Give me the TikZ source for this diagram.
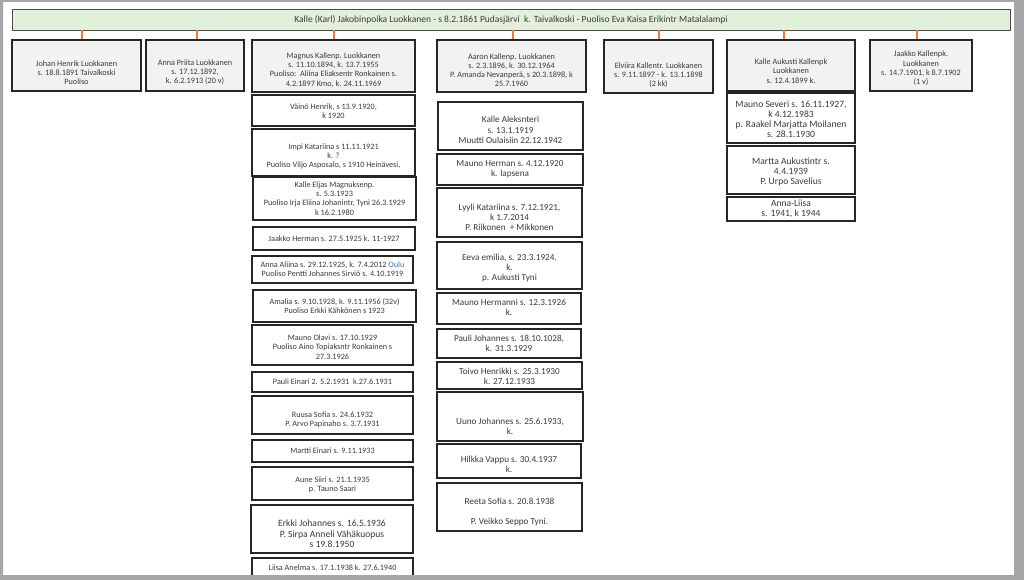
\documentclass[tikz,border=0pt]{standalone}
\usepackage{fontspec}
\setmainfont{Carlito}
\definecolor{barfill}{HTML}{E2EFD9}
\definecolor{hdrfill}{HTML}{F2F2F2}
\definecolor{boxline}{HTML}{262626}
\definecolor{conncol}{HTML}{ED7D31}
\definecolor{txtc}{HTML}{3A3A3A}
\definecolor{framec}{HTML}{A6A6A6}
\definecolor{linkblue}{HTML}{4472C4}
% name, style, x1, y1, x2, y2, text shift (pt, negative = down), text
\newcommand\famBox[8]{%
  \node[#2, minimum width={#5-#3}, minimum height={#6-#4}] (#1) at ({(#3+#5)/2},{(#4+#6)/2}) {};
  \node[#2txt] (#1t) at ([yshift=#7pt]#1.center) {#8};}
\begin{document}
\begin{tikzpicture}[x=1pt,y=-1pt,
  fambar/.style={draw=black!70, fill=barfill, line width=0.9pt, inner sep=0pt},
  fambartxt/.style={align=center, inner sep=0pt, text=txtc, font=\fontsize{9.5}{10}\selectfont},
  famhdr/.style={draw=boxline, fill=hdrfill, line width=1.5pt, inner sep=0pt},
  famhdrtxt/.style={align=center, inner sep=0pt, text=txtc, font=\fontsize{8.2}{9.2}\selectfont},
  famkidc/.style={draw=boxline, fill=white, line width=1.4pt, inner sep=0pt},
  famkidctxt/.style={align=center, inner sep=0pt, text=txtc, font=\fontsize{8.2}{9.3}\selectfont},
  famkidd/.style={famkidc},
  famkiddtxt/.style={align=center, inner sep=0pt, text=txtc, font=\fontsize{9.2}{10.2}\selectfont},
  famkidf/.style={famkidc},
  famkidftxt/.style={align=center, inner sep=0pt, text=txtc, font=\fontsize{9.6}{10}\selectfont},
  famkidl/.style={famkidc},
  famkidltxt/.style={align=center, inner sep=0pt, text=txtc, font=\fontsize{9.6}{10.6}\selectfont},
  famconn/.style={draw=conncol, line width=2.9pt}]
\useasboundingbox (0,0) rectangle (1024,580);
\fill[white] (0,0) rectangle (1024,580);

% top bar
\famBox{top}{fambar}{12}{9}{1010}{30}{0}{Kalle (Karl) Jakobinpoika Luokkanen - s 8.2.1861 Pudasjärvi\ \ k. Taivalkoski - Puoliso Eva Kaisa Erikintr Matalalampi}

% children of Kalle
\famBox{johan}{famhdr}{12}{40}{141}{91}{-7}{Johan Henrik Luokkanen\\ s. 18.8.1891 Taivalkoski\\ Puoliso}
\famBox{anna}{famhdr}{146}{40}{244}{91}{-7}{Anna Priita Luokkanen\\ s. 17.12.1892,\\ k. 6.2.1913 (20 v)}
\famBox{magnus}{famhdr}{252}{40}{415}{92}{-4}{Magnus Kallenp. Luokkanen\\ s. 11.10.1894, k. 13.7.1955\\ Puoliso:\ \ Aliina Eliaksentr Ronkainen s.\\ 4.2.1897 Kmo, k. 24.11.1969}
\famBox{aaron}{famhdr}{437}{40}{586}{92}{-4}{Aaron Kallenp. Luokkanen\\ s. 2.3.1896, k. 30.12.1964\\ P. Amanda Nevanperä, s 20.3.1898, k\\ 25.7.1960}
\famBox{elviira}{famhdr}{604}{40}{713}{93}{-8.5}{Elviira Kallentr. Luokkanen\\ s. 9.11.1897 - k. 13.1.1898\\ (2 kk)}
\famBox{kallea}{famhdr}{727}{40}{855}{91}{-5.5}{Kalle Aukusti Kallenpk\\ Luokkanen\\ s. 12.4.1899 k.}
\famBox{jaakko}{famhdr}{870}{40}{972}{91}{-3}{Jaakko Kallenpk.\\ Luokkanen\\ s. 14.7.1901, k 8.7.1902\\ (1 v)}

% connectors
\coordinate (k1) at (82,0);
\coordinate (k2) at (197,0);
\coordinate (k3) at (334,0);
\coordinate (k4) at (513,0);
\coordinate (k5) at (659,0);
\coordinate (k6) at (784,0);
\coordinate (k7) at (917,0);
\draw[famconn] (k1 |- top.south) -- (k1 |- johan.north);
\draw[famconn] (k2 |- top.south) -- (k2 |- anna.north);
\draw[famconn] (k3 |- top.south) -- (k3 |- magnus.north);
\draw[famconn] (k4 |- top.south) -- (k4 |- aaron.north);
\draw[famconn] (k5 |- top.south) -- (k5 |- elviira.north);
\draw[famconn] (k6 |- top.south) -- (k6 |- kallea.north);
\draw[famconn] (k7 |- top.south) -- (k7 |- jaakko.north);

% Magnus' children
\famBox{vaino}{famkidc}{252}{95}{415}{126}{-1}{Väinö Henrik, s 13.9.1920,\\ k 1920}
\famBox{impi}{famkidc}{252}{129}{415}{176}{-4}{Impi Katariina s 11.11.1921\\ k. ?\\ Puoliso Viljo Asposalo, s 1910 Heinävesi,}
\famBox{kallee}{famkidc}{253}{177}{416}{220}{0}{Kalle Eljas Magnuksenp.\\ s. 5.3.1923\\ Puoliso Irja Eliina Johanintr, Tyni 26.3.1929\\ k 16.2.1980}
\famBox{jaakkoh}{famkidc}{253}{227}{415}{250}{0}{Jaakko Herman s. 27.5.1925 k. 11-1927}
\famBox{annaa}{famkidc}{252}{256}{413}{283}{0}{Anna Aliina s. 29.12.1925, k. 7.4.2012 \textcolor{linkblue}{Oulu}\\ Puoliso Pentti Johannes Sirviö s. 4.10.1919}
\famBox{amalia}{famkidc}{253}{290}{416}{322}{0}{Amalia s. 9.10.1928, k. 9.11.1956 (32v)\\ Puoliso Erkki Kähkönen s 1923}
\famBox{maunoo}{famkidc}{252}{325}{413}{365}{-2}{Mauno Olavi s. 17.10.1929\\ Puoliso Aino Topiaksntr Ronkainen s\\ 27.3.1926}
\famBox{paulie}{famkidc}{252}{372}{413}{392}{0}{Pauli Einari 2. 5.2.1931\ \ k.27.6.1931}
\famBox{ruusa}{famkidc}{252}{396}{413}{434}{-5}{Ruusa Sofia s. 24.6.1932\\ P. Arvo Papinaho s. 3.7.1931}
\famBox{martti}{famkidc}{252}{440}{413}{462}{0}{Martti Einari s. 9.11.1933}
\famBox{aune}{famkidc}{252}{467}{413}{500}{-1.5}{Aune Siiri s. 21.1.1935\\ p. Tauno Saari}
\famBox{erkki}{famkidl}{251}{505}{413}{553}{-5}{Erkki Johannes s. 16.5.1936\\ P. Sirpa Anneli Vähäkuopus\\ s 19.8.1950}
\famBox{liisa}{famkidc}{252}{558}{413}{577}{0}{Liisa Anelma s. 17.1.1938 k. 27.6.1940}

% Aaron's children
\famBox{kalleal}{famkidd}{438}{102}{583}{150}{-4}{Kalle Aleksnteri\\ s. 13.1.1919\\ Muutti Oulaisiin 22.12.1942}
\famBox{maunoh}{famkidd}{437}{154}{583}{185}{0}{Mauno Herman s. 4.12.1920\\ k. lapsena}
\famBox{lyyli}{famkidd}{437}{188}{582}{237}{-5}{Lyyli Katariina s. 7.12.1921,\\ k 1.7.2014\\ P. Riikonen\ \ + Mikkonen}
\famBox{eeva}{famkidd}{437}{242}{582}{289}{-2.5}{Eeva emilia, s. 23.3.1924.\\ k.\\ p. Aukusti Tyni}
\famBox{maunohm}{famkidd}{437}{293}{581}{324}{1}{Mauno Hermanni s. 12.3.1926\\ k.}
\famBox{paulij}{famkidd}{437}{329}{581}{358}{0}{Pauli Johannes s. 18.10.1028,\\ k. 31.3.1929}
\famBox{toivo}{famkidd}{437}{362}{582}{389}{-1}{Toivo Henrikki s. 25.3.1930\\ k. 27.12.1933}
\famBox{uuno}{famkidd}{437}{392}{583}{441}{-10}{Uuno Johannes s. 25.6.1933,\\ k.}
\famBox{hilkka}{famkidd}{437}{444}{581}{478}{-3}{Hilkka Vappu s. 30.4.1937\\ k.}
\famBox{reeta}{famkidd}{437}{483}{582}{531}{-5}{Reeta Sofia s. 20.8.1938\\[10pt] P. Veikko Seppo Tyni.}

% Kalle Aukusti's children
\famBox{maunos}{famkidf}{727}{93}{855}{143}{-1}{Mauno Severi s. 16.11.1927,\\ k 4.12.1983\\ p. Raakel Marjatta Moilanen\\ s. 28.1.1930}
\famBox{martta}{famkidf}{727}{146}{855}{194}{-2}{Martta Aukustintr s.\\ 4.4.1939\\ P. Urpo Savelius}
\famBox{annal}{famkidf}{727}{197}{855}{221}{0}{Anna-Liisa\\ s. 1941, k 1944}

% page frame
\fill[framec, even odd rule] (0,0) rectangle (1024,580) (3,2) rectangle (1014,575);
\end{tikzpicture}
\end{document}
